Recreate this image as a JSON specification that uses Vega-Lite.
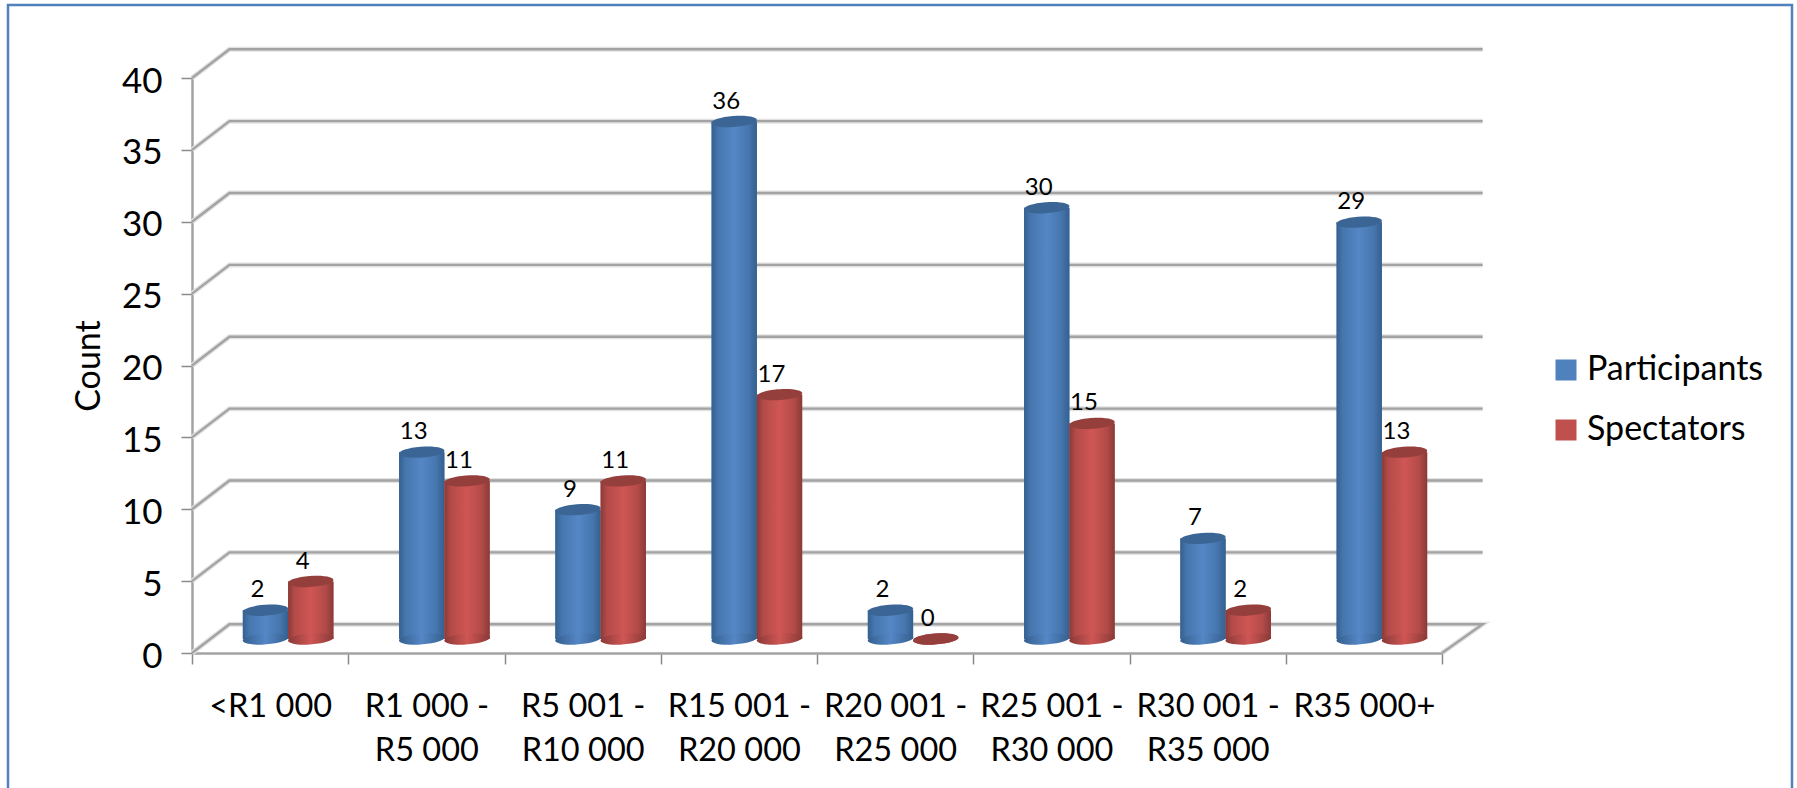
{
  "$schema": "https://vega.github.io/schema/vega-lite/v6.json",
  "autosize": {"type": "none"},
  "padding": {"left": 8, "top": 5, "right": 5, "bottom": 0},
  "width": 1784,
  "height": 800,
  "background": "white",
  "config": {
    "font": "Lato",
    "view": {"stroke": "#4F81BD", "strokeWidth": 2.5}
  },
  "datasets": {
    "income": [
      {"band": "<R1 000", "series": "Participants", "count": 2},
      {"band": "<R1 000", "series": "Spectators", "count": 4},
      {"band": "R1 000 - R5 000", "series": "Participants", "count": 13},
      {"band": "R1 000 - R5 000", "series": "Spectators", "count": 11},
      {"band": "R5 001 - R10 000", "series": "Participants", "count": 9},
      {"band": "R5 001 - R10 000", "series": "Spectators", "count": 11},
      {"band": "R15 001 - R20 000", "series": "Participants", "count": 36},
      {"band": "R15 001 - R20 000", "series": "Spectators", "count": 17},
      {"band": "R20 001 - R25 000", "series": "Participants", "count": 2},
      {"band": "R20 001 - R25 000", "series": "Spectators", "count": 0},
      {"band": "R25 001 - R30 000", "series": "Participants", "count": 30},
      {"band": "R25 001 - R30 000", "series": "Spectators", "count": 15},
      {"band": "R30 001 - R35 000", "series": "Participants", "count": 7},
      {"band": "R30 001 - R35 000", "series": "Spectators", "count": 2},
      {"band": "R35 000+", "series": "Participants", "count": 29},
      {"band": "R35 000+", "series": "Spectators", "count": 13}
    ],
    "walls": [
      {"level": 0, "step": 1, "along": 0, "up": 0}, {"level": 0, "step": 2, "along": 0.24, "up": 2}, {"level": 0, "step": 3, "along": 8.26, "up": 2}, {"level": 0, "step": 4, "along": 8, "up": 0},
      {"level": 5, "step": 1, "along": 0, "up": 5}, {"level": 5, "step": 2, "along": 0.24, "up": 7}, {"level": 5, "step": 3, "along": 8.26, "up": 7},
      {"level": 10, "step": 1, "along": 0, "up": 10}, {"level": 10, "step": 2, "along": 0.24, "up": 12}, {"level": 10, "step": 3, "along": 8.26, "up": 12},
      {"level": 15, "step": 1, "along": 0, "up": 15}, {"level": 15, "step": 2, "along": 0.24, "up": 17}, {"level": 15, "step": 3, "along": 8.26, "up": 17},
      {"level": 20, "step": 1, "along": 0, "up": 20}, {"level": 20, "step": 2, "along": 0.24, "up": 22}, {"level": 20, "step": 3, "along": 8.26, "up": 22},
      {"level": 25, "step": 1, "along": 0, "up": 25}, {"level": 25, "step": 2, "along": 0.24, "up": 27}, {"level": 25, "step": 3, "along": 8.26, "up": 27},
      {"level": 30, "step": 1, "along": 0, "up": 30}, {"level": 30, "step": 2, "along": 0.24, "up": 32}, {"level": 30, "step": 3, "along": 8.26, "up": 32},
      {"level": 35, "step": 1, "along": 0, "up": 35}, {"level": 35, "step": 2, "along": 0.24, "up": 37}, {"level": 35, "step": 3, "along": 8.26, "up": 37},
      {"level": 40, "step": 1, "along": 0, "up": 40}, {"level": 40, "step": 2, "along": 0.24, "up": 42}, {"level": 40, "step": 3, "along": 8.26, "up": 42}
    ]
  },
  "resolve": {"scale": {"x": "independent", "y": "independent"}},
  "layer": [
    {
      "data": {"name": "walls"},
      "encoding": {
        "x": {"field": "along", "type": "quantitative", "axis": null, "scale": {"domain": [0, 8], "range": [184, 1434], "nice": false, "zero": false}},
        "y": {"field": "up", "type": "quantitative", "axis": null, "scale": {"domain": [0, 40], "range": [648, 73], "nice": false}},
        "detail": {"field": "level"},
        "order": {"field": "step"}
      },
      "layer": [
        {"mark": {"type": "line", "stroke": "#e2e2e2", "strokeWidth": 5, "strokeJoin": "miter", "clip": false}},
        {"mark": {"type": "line", "stroke": "#a3a3a3", "strokeWidth": 2.4, "strokeJoin": "miter", "clip": false}}
      ]
    },
    {
      "data": {"name": "income"},
      "mark": {"type": "tick", "opacity": 0},
      "encoding": {
        "x": {
          "field": "band",
          "type": "nominal",
          "sort": null,
          "title": null,
          "scale": {"range": [184, 1434], "paddingInner": 0, "paddingOuter": 0},
          "axis": {
            "offset": -152,
            "tickBand": "extent",
            "tickSize": 11,
            "tickWidth": 1.5,
            "tickColor": "#8a8a8a",
            "domainColor": "#a3a3a3",
            "domainWidth": 2.5,
            "labelAngle": 0,
            "labelFontSize": 32.5,
            "labelColor": "#000000",
            "labelPadding": 26,
            "labelLimit": 400,
            "labelOverlap": false,
            "labelLineHeight": 44,
            "labelExpr": "split(replace(datum.label, ' - ', ' -|'), '|')"
          }
        },
        "y": {
          "field": "count",
          "type": "quantitative",
          "stack": null,
          "title": "Count",
          "scale": {"domain": [0, 40], "range": [648, 73], "nice": false},
          "axis": {
            "offset": -184,
            "values": [0, 5, 10, 15, 20, 25, 30, 35, 40],
            "grid": false,
            "tickSize": 11,
            "tickWidth": 1.5,
            "tickColor": "#8a8a8a",
            "domainColor": "#a3a3a3",
            "domainWidth": 2.5,
            "labelFontSize": 35,
            "labelColor": "#000000",
            "labelPadding": 19,
            "labelOffset": 3,
            "titleFontSize": 34,
            "titleFontWeight": "normal",
            "titleColor": "#000000",
            "titlePadding": 15
          }
        }
      }
    },
    {
      "data": {"name": "income"},
      "encoding": {
        "x": {
          "field": "band",
          "type": "nominal",
          "sort": null,
          "axis": null,
          "scale": {"range": [202, 1452], "paddingInner": 0, "paddingOuter": 0}
        },
        "xOffset": {"field": "series", "type": "nominal", "scale": {"domain": ["Participants", "Spectators"], "paddingInner": 0, "paddingOuter": 0.725}},
        "y": {
          "field": "count",
          "type": "quantitative",
          "stack": null,
          "axis": null,
          "scale": {"domain": [0, 40], "range": [634, 59], "nice": false}
        }
      },
      "layer": [
        {
          "mark": {"type": "bar", "clip": false},
          "encoding": {
            "color": {
              "field": "series",
              "type": "nominal",
              "scale": {"domain": ["Participants", "Spectators"], "range": ["#4F81BD", "#C0504D"]},
              "legend": {
                "title": null,
                "orient": "none",
                "legendX": 1541,
                "legendY": 348,
                "padding": 0,
                "symbolType": "square",
                "symbolSize": 441,
                "symbolStrokeWidth": 0,
                "symbolOpacity": 1,
                "labelFontSize": 34,
                "labelColor": "#000000",
                "labelOffset": 4,
                "labelLimit": 400,
                "rowPadding": 26
              }
            }
          }
        },
        {
          "transform": [{"filter": "datum.series === 'Participants'"}],
          "layer": [
            {
              "mark": {
                "type": "bar",
                "fill": {"gradient": "linear", "x1": 0, "y1": 0, "x2": 1, "y2": 0, "stops": [
                  {"offset": 0, "color": "#35608f"}, {"offset": 0.14, "color": "#4676ae"}, {"offset": 0.5, "color": "#5587c6"}, {"offset": 0.82, "color": "#4676ae"}, {"offset": 1, "color": "#35608f"}
                ]}
              }
            },
            {
              "mark": {
                "type": "point", "filled": true, "opacity": 1, "size": 2025,
                "shape": "M-1,0.03 A1,0.24 -4 1,0 1,-0.03 A1,0.24 -4 1,0 -1,0.03 Z",
                "fill": {"gradient": "linear", "x1": 0, "y1": 0, "x2": 1, "y2": 0, "stops": [
                  {"offset": 0, "color": "#35608f"}, {"offset": 0.5, "color": "#5587c6"}, {"offset": 1, "color": "#35608f"}
                ]}
              },
              "encoding": {"y": {"datum": 0, "type": "quantitative"}}
            },
            {
              "mark": {
                "type": "point", "filled": true, "opacity": 1, "size": 2025,
                "shape": "M-1,0.03 A1,0.24 -4 1,0 1,-0.03 A1,0.24 -4 1,0 -1,0.03 Z",
                "fill": "#3b6595"
              }
            }
          ]
        },
        {
          "transform": [{"filter": "datum.series === 'Spectators'"}],
          "layer": [
            {
              "mark": {
                "type": "bar",
                "fill": {"gradient": "linear", "x1": 0, "y1": 0, "x2": 1, "y2": 0, "stops": [
                  {"offset": 0, "color": "#8a3a38"}, {"offset": 0.14, "color": "#b34b48"}, {"offset": 0.5, "color": "#cf5654"}, {"offset": 0.82, "color": "#b34b48"}, {"offset": 1, "color": "#8a3a38"}
                ]}
              }
            },
            {
              "mark": {
                "type": "point", "filled": true, "opacity": 1, "size": 2025,
                "shape": "M-1,0.03 A1,0.24 -4 1,0 1,-0.03 A1,0.24 -4 1,0 -1,0.03 Z",
                "fill": {"gradient": "linear", "x1": 0, "y1": 0, "x2": 1, "y2": 0, "stops": [
                  {"offset": 0, "color": "#8a3a38"}, {"offset": 0.5, "color": "#cf5654"}, {"offset": 1, "color": "#8a3a38"}
                ]}
              },
              "encoding": {"y": {"datum": 0, "type": "quantitative"}}
            },
            {
              "mark": {
                "type": "point", "filled": true, "opacity": 1, "size": 2025,
                "shape": "M-1,0.03 A1,0.24 -4 1,0 1,-0.03 A1,0.24 -4 1,0 -1,0.03 Z",
                "fill": "#953f3d"
              }
            }
          ]
        },
        {
          "mark": {"type": "text", "font": "Lato", "fontSize": 24, "color": "#000000", "dx": -8, "dy": -20, "baseline": "middle", "align": "center"},
          "encoding": {"text": {"field": "count", "type": "quantitative"}}
        }
      ]
    }
  ]
}
